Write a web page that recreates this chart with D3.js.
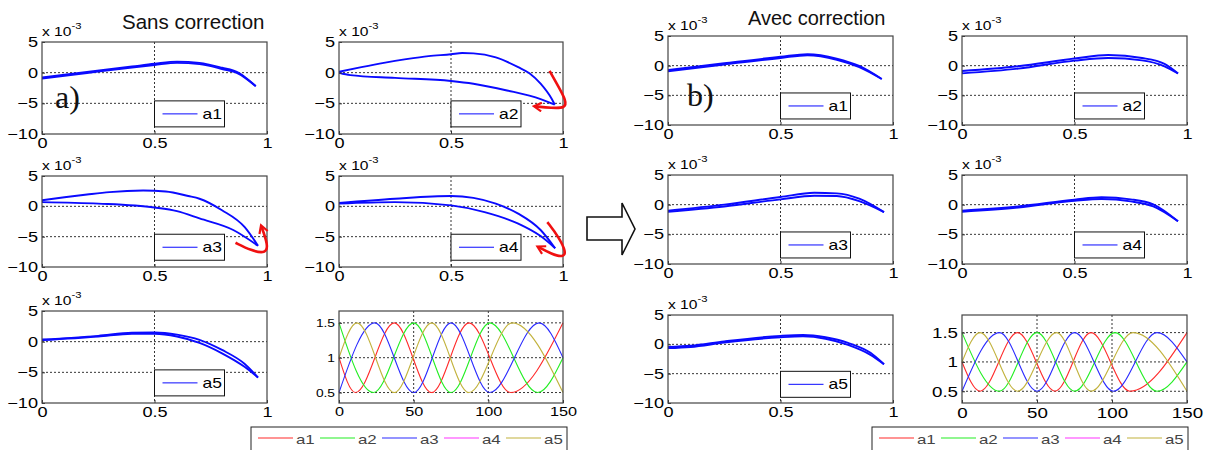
<!DOCTYPE html>
<html>
<head>
<meta charset="utf-8">
<script src="https://cdn.jsdelivr.net/npm/d3@7"></script>
<style>
  body { margin: 0; background: #fff; }
  text { font-family: "Liberation Sans", Arial, sans-serif; }
</style>
</head>
<body>
<svg id="chart" width="1207" height="450"></svg>
<script>
// ---- données (y en 1e-3) ----
const seriesNames  = ['a1', 'a2', 'a3', 'a4', 'a5'];
const seriesColors = ['#ff2a2a', '#22ee22', '#2a2aff', '#ff33ff', '#c2b23c'];

const loopTicksX = [0, 0.5, 1];
const loopTicksY = [5, 0, -5, -10];
const loopGridY  = [0, -5];
const sinTicksX  = [0, 50, 100, 150];
const sinTicksY  = [0.5, 1, 1.5];

// Sans correction : branche haute / basse [x, y]
const a1SansUp = [[0,-0.8],[0.2,0.1],[0.4,1.0],[0.5,1.45],[0.6,1.8],[0.7,1.6],[0.8,0.8],[0.87,0.05],[0.95,-2.2]];
const a1SansLo = [[0,-0.95],[0.2,-0.05],[0.4,0.85],[0.5,1.25],[0.6,1.6],[0.7,1.4],[0.8,0.6],[0.87,-0.1],[0.95,-2.2]];
const a2SansUp = [[0,0.15],[0.1,0.9],[0.2,1.6],[0.3,2.2],[0.4,2.7],[0.5,3.0],[0.55,3.2],[0.6,3.15],[0.7,2.5],[0.8,0.9],[0.85,-0.1],[0.9,-1.8],[0.95,-4.3],[0.963,-5.2]];
const a2SansLo = [[0,0],[0.05,-0.4],[0.25,-0.85],[0.5,-1.35],[0.6,-1.8],[0.75,-2.9],[0.9,-4.3],[0.963,-5.2]];
const a3SansUp = [[0,1.0],[0.1,1.5],[0.2,1.95],[0.3,2.35],[0.45,2.6],[0.55,2.45],[0.65,1.7],[0.7,1.25],[0.8,-0.65],[0.9,-3.4],[0.96,-6.5]];
const a3SansLo = [[0,0.7],[0.25,0.45],[0.5,-0.2],[0.6,-0.8],[0.7,-2.0],[0.85,-3.9],[0.96,-6.5]];
const a4SansUp = [[0,0.55],[0.25,1.25],[0.5,1.7],[0.6,1.4],[0.7,0.45],[0.8,-1.2],[0.9,-3.9],[0.965,-6.9]];
const a4SansLo = [[0,0.45],[0.25,0.7],[0.5,0.15],[0.65,-0.95],[0.8,-2.85],[0.9,-4.9],[0.965,-6.9]];
const a5SansUp = [[0,0.35],[0.25,0.95],[0.4,1.45],[0.5,1.5],[0.6,1.15],[0.7,0.3],[0.8,-1.35],[0.9,-3.6],[0.96,-5.85]];
const a5SansLo = [[0,0.25],[0.25,0.85],[0.4,1.3],[0.5,1.3],[0.6,0.85],[0.7,-0.2],[0.8,-1.9],[0.9,-4.1],[0.96,-5.85]];

// Avec correction
const a1AvecUp = [[0,-0.75],[0.25,0.4],[0.5,1.5],[0.62,1.95],[0.75,1.2],[0.85,-0.05],[0.95,-2.25]];
const a1AvecLo = [[0,-0.95],[0.25,0.2],[0.5,1.3],[0.62,1.75],[0.75,1.0],[0.85,-0.25],[0.95,-2.25]];
const a2AvecUp = [[0,-0.9],[0.25,-0.1],[0.5,1.2],[0.65,1.8],[0.8,1.3],[0.9,0.3],[0.96,-1.3]];
const a2AvecLo = [[0,-1.3],[0.25,-0.5],[0.5,0.85],[0.65,1.3],[0.8,0.9],[0.9,-0.1],[0.96,-1.3]];
const a3AvecUp = [[0,-1.0],[0.25,0.0],[0.5,1.3],[0.65,2.0],[0.75,1.9],[0.85,1.0],[0.96,-1.25]];
const a3AvecLo = [[0,-1.2],[0.25,-0.3],[0.5,0.9],[0.65,1.5],[0.75,1.45],[0.85,0.6],[0.96,-1.25]];
const a4AvecUp = [[0,-1.0],[0.25,-0.3],[0.5,0.85],[0.62,1.25],[0.75,0.9],[0.85,0.05],[0.96,-2.8]];
const a4AvecLo = [[0,-1.2],[0.25,-0.5],[0.5,0.65],[0.62,0.95],[0.75,0.55],[0.85,-0.3],[0.96,-2.8]];
const a5AvecUp = [[0,-0.45],[0.1,-0.25],[0.25,0.5],[0.5,1.45],[0.6,1.6],[0.7,1.2],[0.8,0.25],[0.9,-1.45],[0.96,-3.4]];
const a5AvecLo = [[0,-0.65],[0.1,-0.45],[0.25,0.3],[0.5,1.2],[0.6,1.35],[0.7,0.95],[0.8,-0.1],[0.9,-1.8],[0.96,-3.4]];

// Consignes sinusoïdales (extrema lus) [t, valeur]
const sinSansA1 = [[0,1],[11,0.5],[37,1.5],[62,0.5],[87,1.5],[115,0.5],[150,1.5]];
const sinSansA2 = [[0,1.5],[23,0.5],[50,1.5],[75,0.5],[101,1.5],[133,0.5],[150,1.0]];
const sinSansA3 = [[0,0.5],[24,1.5],[50,0.5],[75,1.5],[101,0.5],[134,1.5],[150,1.0]];
const sinSansA5 = [[0,1],[12,1.5],[37,0.5],[62,1.5],[87,0.5],[116,1.5],[150,0.5]];
const sinAvecA1 = [[0,1],[12,0.5],[37,1.5],[62,0.5],[86,1.5],[112,0.5],[150,1.5]];
const sinAvecA2 = [[0,1.5],[25,0.5],[50,1.5],[75,0.5],[102,1.5],[130,0.5],[150,1.0]];
const sinAvecA3 = [[0,0.5],[25,1.5],[50,0.5],[75,1.5],[101,0.5],[130,1.5],[150,1.0]];
const sinAvecA5 = [[0,1],[12,1.5],[37,0.5],[63,1.5],[86,0.5],[114,1.5],[150,0.5]];

// flèches rouges (coordonnées du repère de la sous-figure)
const arrowA2 = [[0.94,0.3],[0.975,-2],[1.015,-4.6],[1.01,-5.8],[0.95,-5.75],[0.875,-5.5]];
const arrowA3 = [[0.86,-6.0],[0.93,-7.3],[0.995,-7.8],[1.005,-6.4],[0.975,-3.3]];
const arrowA4 = [[0.93,-2.6],[0.98,-5.0],[1.015,-7.6],[1.0,-8.4],[0.95,-7.9],[0.89,-6.7]];

// ---- mise en page ----
const svg = d3.select('#chart');
const K = 1.25; // étirement horizontal des textes MATLAB
const SANS = '"Liberation Sans", Arial, sans-serif';
const SERIF = '"Liberation Serif", "DejaVu Serif", serif';
let clipN = 0;

const defs = svg.append('defs');
defs.append('marker')
    .attr('id', 'redHead').attr('viewBox', '0 0 10 10')
    .attr('refX', 7).attr('refY', 5)
    .attr('markerWidth', 4.2).attr('markerHeight', 4.2)
    .attr('orient', 'auto')
  .append('path')
    .attr('d', 'M1,1 L8,5 L1,9')
    .attr('fill', 'none').attr('stroke', '#f01010').attr('stroke-width', 2);

const stretch = (sel, k = K) => sel.each(function() {
    const t = d3.select(this);
    const x = +t.attr('x') || 0, y = +t.attr('y') || 0;
    t.attr('transform', `translate(${x},${y}) scale(${k},1) translate(${-x},${-y})`);
});

const dashed = sel => sel.attr('stroke', '#000').attr('stroke-width', 0.8)
    .attr('stroke-dasharray', '2,2');

function frame(g, b, x, y, ticksX, ticksY, fmtY, fsX, fsY) {
    g.append('g').attr('transform', `translate(0,${b[3]})`)
        .call(d3.axisBottom(x).tickValues(ticksX).tickSize(-3).tickPadding(4).tickFormat(d3.format('')))
        .call(a => a.select('.domain').remove())
        .call(a => a.selectAll('line').attr('stroke', '#333'))
        .call(a => a.selectAll('text').attr('font-size', fsX).attr('fill', '#000')
            .style('font-family', SANS).call(stretch));
    g.append('g').attr('transform', `translate(${b[0]},0)`)
        .call(d3.axisLeft(y).tickValues(ticksY).tickSize(-3).tickPadding(4).tickFormat(fmtY))
        .call(a => a.select('.domain').remove())
        .call(a => a.selectAll('line').attr('stroke', '#333'))
        .call(a => a.selectAll('text').attr('font-size', fsY).attr('fill', '#000')
            .style('font-family', SANS).call(stretch));
    g.append('rect')
        .attr('x', b[0]).attr('y', b[2])
        .attr('width', b[1] - b[0]).attr('height', b[3] - b[2])
        .attr('fill', 'none').attr('stroke', '#444').attr('stroke-width', 1.2);
}

function drawLoop(b, up, lo, name, arrow) {
    const x = d3.scaleLinear().domain([0, 1]).range([b[0], b[1]]);
    const y = d3.scaleLinear().domain([-10, 5]).range([b[3], b[2]]);
    const g = svg.append('g');
    const clipId = 'clip' + (clipN++);
    defs.append('clipPath').attr('id', clipId).append('rect')
        .attr('x', b[0]).attr('y', b[2]).attr('width', b[1] - b[0]).attr('height', b[3] - b[2]);

    g.append('line').attr('x1', x(0.5)).attr('x2', x(0.5)).attr('y1', b[2]).attr('y2', b[3]).call(dashed);
    loopGridY.forEach(v => g.append('line')
        .attr('x1', b[0]).attr('x2', b[1]).attr('y1', y(v)).attr('y2', y(v)).call(dashed));

    const line = d3.line().x(d => x(d[0])).y(d => y(d[1])).curve(d3.curveMonotoneX);
    const c = g.append('g').attr('clip-path', `url(#${clipId})`)
        .attr('fill', 'none').attr('stroke', '#0a0aff').attr('stroke-width', 1.9);
    c.append('path').attr('d', line(up));
    c.append('path').attr('d', line(lo));
    c.append('path').attr('d', d3.line().x(d => x(d[0])).y(d => y(d[1]))([up[0], lo[0]]));

    frame(g, b, x, y, loopTicksX, loopTicksY, d3.format('d'), 14.5, 14.5);

    // x 10^-3
    const e = g.append('text').attr('x', b[0]).attr('y', b[2] - 6)
        .attr('font-size', 12.5).attr('fill', '#000');
    e.append('tspan').text('x 10');
    e.append('tspan').attr('dy', -7).attr('font-size', 9).text('-3');
    e.call(stretch);

    // légende interne
    const lx = x(0.5), ly = y(-4.6), lw = 70, lh = 26;
    g.append('rect').attr('x', lx).attr('y', ly).attr('width', lw).attr('height', lh)
        .attr('fill', '#fff').attr('stroke', '#111').attr('stroke-width', 1);
    g.append('line').attr('x1', lx + 8).attr('x2', lx + 43).attr('y1', ly + lh / 2).attr('y2', ly + lh / 2)
        .attr('stroke', '#0a0aff').attr('stroke-width', 1);
    g.append('text').attr('x', lx + 48).attr('y', ly + lh / 2 + 5)
        .attr('font-size', 14).attr('fill', '#000').text(name).call(stretch);

    if (arrow) {
        svg.append('path')
            .attr('d', d3.line().x(d => x(d[0])).y(d => y(d[1])).curve(d3.curveBasis)(arrow))
            .attr('fill', 'none').attr('stroke', '#f01010').attr('stroke-width', 2.6)
            .attr('marker-end', 'url(#redHead)');
    }
}

function drawSin(b, dom, series, fsX, fsY) {
    const x = d3.scaleLinear().domain([0, 150]).range([b[0], b[1]]);
    const y = d3.scaleLinear().domain(dom).range([b[3], b[2]]);
    const g = svg.append('g');
    [50, 100].forEach(v => g.append('line')
        .attr('x1', x(v)).attr('x2', x(v)).attr('y1', b[2]).attr('y2', b[3]).call(dashed));
    sinTicksY.forEach(v => g.append('line')
        .attr('x1', b[0]).attr('x2', b[1]).attr('y1', y(v)).attr('y2', y(v)).call(dashed));
    const line = d3.line().x(d => x(d[0])).y(d => y(d[1])).curve(d3.curveMonotoneX);
    series.forEach(s => g.append('path').attr('d', line(s.data))
        .attr('fill', 'none').attr('stroke', s.color).attr('stroke-width', 1.1));
    frame(g, b, x, y, sinTicksX, sinTicksY, d3.format(''), fsX, fsY);
}

function drawLegend(x0, y0) {
    const g = svg.append('g');
    g.append('rect').attr('x', x0).attr('y', y0).attr('width', 316).attr('height', 30)
        .attr('fill', '#fff').attr('stroke', '#222').attr('stroke-width', 1);
    seriesNames.forEach((n, i) => {
        const lx = x0 + 7 + 62 * i;
        g.append('line').attr('x1', lx).attr('x2', lx + 35).attr('y1', y0 + 11).attr('y2', y0 + 11)
            .attr('stroke', seriesColors[i]).attr('stroke-width', 1.2);
        g.append('text').attr('x', lx + 38).attr('y', y0 + 17)
            .attr('font-size', 13.5).attr('fill', '#444').text(n).call(stretch);
    });
}

// Panneau a) Sans correction
const colA = [42, 267], colB = [339, 563];
const rowA = [[42, 134], [176, 267], [311, 403]];
drawLoop([...colA, ...rowA[0]], a1SansUp, a1SansLo, 'a1');
drawLoop([...colB, ...rowA[0]], a2SansUp, a2SansLo, 'a2', arrowA2);
drawLoop([...colA, ...rowA[1]], a3SansUp, a3SansLo, 'a3', arrowA3);
drawLoop([...colB, ...rowA[1]], a4SansUp, a4SansLo, 'a4', arrowA4);
drawLoop([...colA, ...rowA[2]], a5SansUp, a5SansLo, 'a5');
drawSin([...colB, ...rowA[2]], [0.35, 1.67], [
    { data: sinSansA1, color: seriesColors[0] },
    { data: sinSansA2, color: seriesColors[1] },
    { data: sinSansA3, color: seriesColors[2] },
    { data: sinSansA5, color: seriesColors[4] }
], 13, 11);
drawLegend(251, 427);

// Panneau b) Avec correction
const colC = [668, 893], colD = [962, 1187];
const rowB = [[36, 125], [175, 264], [315, 403]];
drawLoop([...colC, ...rowB[0]], a1AvecUp, a1AvecLo, 'a1');
drawLoop([...colD, ...rowB[0]], a2AvecUp, a2AvecLo, 'a2');
drawLoop([...colC, ...rowB[1]], a3AvecUp, a3AvecLo, 'a3');
drawLoop([...colD, ...rowB[1]], a4AvecUp, a4AvecLo, 'a4');
drawLoop([...colC, ...rowB[2]], a5AvecUp, a5AvecLo, 'a5');
drawSin([...colD, ...rowB[2]], [0.3, 1.8], [
    { data: sinAvecA1, color: seriesColors[0] },
    { data: sinAvecA2, color: seriesColors[1] },
    { data: sinAvecA3, color: seriesColors[2] },
    { data: sinAvecA5, color: seriesColors[4] }
], 15, 15);
drawLegend(872, 427);

// titres et repères
svg.append('text').attr('x', 122).attr('y', 29).attr('font-size', 20.5).attr('fill', '#111').text('Sans correction');
svg.append('text').attr('x', 748).attr('y', 25).attr('font-size', 20).attr('fill', '#111').text('Avec correction');
svg.append('text').attr('x', 55).attr('y', 108).attr('font-size', 32)
    .style('font-family', SERIF).attr('fill', '#111').text('a)');
svg.append('text').attr('x', 687).attr('y', 106).attr('font-size', 32)
    .style('font-family', SERIF).attr('fill', '#111').text('b)');

// flèche centrale
svg.append('polygon')
    .attr('points', [[587, 217], [622, 217], [622, 203], [635, 229], [622, 255], [622, 240], [587, 240]].join(' '))
    .attr('fill', '#fff').attr('stroke', '#111').attr('stroke-width', 1.6);
</script>
</body>
</html>
